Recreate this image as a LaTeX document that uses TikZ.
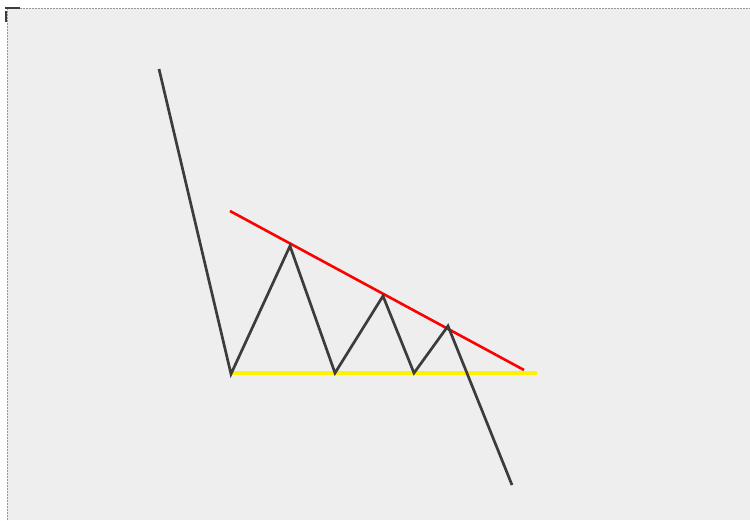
\documentclass[tikz,border=0pt]{standalone}
\begin{document}
\begin{tikzpicture}[x=1pt,y=-1pt,
  price/.style={draw=pricegray,line width=2.7pt,line join=miter},
  resist/.style={draw=red,line width=2.6pt},
  support/.style={draw=yellow,line width=3.6pt},
  frame/.style={draw=gray!80,line width=0.8pt,dash pattern=on 2pt off 1pt}]
\definecolor{pricegray}{HTML}{3C3C3C}
\definecolor{bg}{HTML}{EEEEEE}
\useasboundingbox (0,0) rectangle (750,520);
\fill[white] (0,0) rectangle (750,520);
\fill[bg] (7,8) rectangle (750,520);
\draw[frame] (7,520) -- (7,8) -- (750,8);
\draw[pricegray,line width=1.5pt] (5,8) -- (20,8);
\draw[pricegray,line width=1.5pt] (6,11) -- (6,22);
% coordinates
\coordinate (p0) at (159,69);
\coordinate (p1) at (231,374);
\coordinate (p2) at (290,246);
\coordinate (p3) at (335,373);
\coordinate (p4) at (383,296);
\coordinate (p5) at (414,373);
\coordinate (p6) at (448,326);
\coordinate (p7) at (512,485);
\coordinate (r0) at (230,211);
\coordinate (r1) at (524,370);
\coordinate (s0) at (231,373);
\coordinate (s1) at (537,373);
\draw[support] (s0) -- (s1);
\draw[resist] (r0) -- (r1);
\draw[price] (p0) -- (p1) -- (p2) -- (p3) -- (p4) -- (p5) -- (p6) -- (p7);
\end{tikzpicture}
\end{document}
